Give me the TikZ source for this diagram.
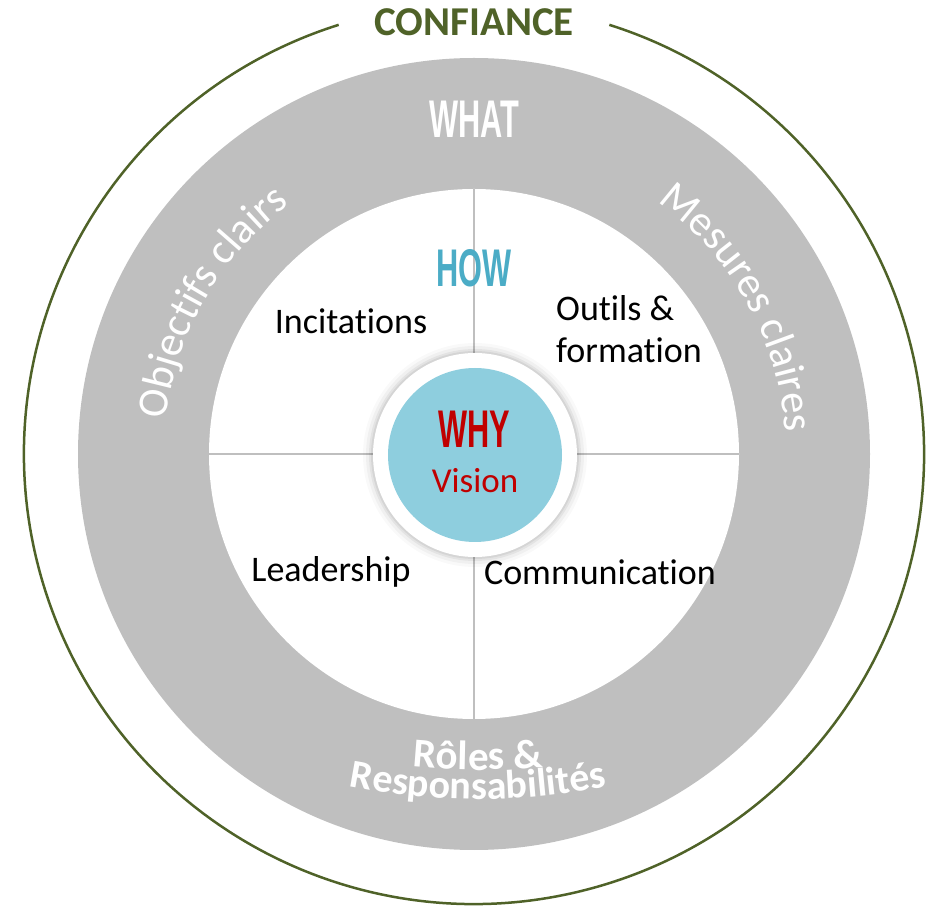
\documentclass[tikz,border=0pt]{standalone}
\usepackage{fontspec}
\setmainfont{Carlito}[Ligatures=NoCommon]
\newfontfamily\condfont[FakeStretch=0.58]{Liberation Sans}
\usetikzlibrary{decorations.text}
\definecolor{ringgray}{RGB}{191,191,191}
\definecolor{dividergray}{RGB}{191,191,191}
\definecolor{trustgreen}{RGB}{79,98,40}
\definecolor{whyblue}{RGB}{142,206,222}
\definecolor{whyred}{RGB}{192,0,0}
\definecolor{howteal}{RGB}{75,172,198}
\begin{document}
\begin{tikzpicture}[x=1pt,y=1pt,
  labeltext/.style={font=\fontsize{36}{42}\selectfont, text=black, inner sep=0},
  condtitle/.style={font=\condfont\bfseries\fontsize{53}{53}\selectfont, inner sep=0},
  divider/.style={draw=dividergray, line width=2.5pt},
  disc/.style={circle, inner sep=0, draw=none},
  ringtext/.style={decorate, decoration={text along path, text align=center, text color=white}}
]
\useasboundingbox (0,0) rectangle (930,906);
\coordinate (C) at (474,452);

% outer trust circle, open at the top for its title
\draw[trustgreen, line width=2.5pt] (C) ++(107.5:450)
  arc[start angle=107.5, end angle=432.5, radius=450];
\node[font=\bfseries\fontsize{41}{41}\selectfont, text=trustgreen, inner sep=0]
  (confiance) at (474,884) {CONFIANCE};

% WHAT ring and HOW disc
\node[disc, fill=ringgray, minimum size=792pt] (what) at (C) {};
\node[disc, fill=white, minimum size=530pt] (how) at (C) {};

% quadrant dividers
\draw[divider] (how.north) -- (how.south);
\draw[divider] (how.west) -- (how.east);

% soft shadow under the central disc
\foreach \r/\o in {112/0.025, 109/0.035, 106/0.05, 104/0.06}
  {\fill[black, opacity=\o] (475,451) circle[radius=\r];}

% WHY core
\node[disc, fill=white, minimum size=204pt] (whyring) at (475,451) {};
\node[disc, fill=whyblue, minimum size=174pt] (why) at (475,451) {};

% titles
\node[condtitle, text=white] (whatlbl) at (474,787) {WHAT};
\node[condtitle, text=howteal] (howlbl) at (474,638) {HOW};
\node[condtitle, text=whyred] (whylbl) at (474,477) {WHY};
\node[font=\fontsize{35}{40}\selectfont, text=whyred, inner sep=0] (vision) at (475,425) {Vision};

% quadrant labels
\node[labeltext] (incitations) at (351,585) {Incitations};
\node[labeltext, align=left, anchor=west] (outils) at (556,577) {Outils \&\\formation};
\node[labeltext] (leadership) at (331,334) {Leadership};
\node[labeltext] (communication) at (600,334) {Communication};

% curved labels on the WHAT ring
\path[ringtext, decoration={text={|\fontsize{43}{43}\selectfont|Objectifs clairs}}]
  (C) ++(177:310) arc[start angle=177, end angle=123, radius=310];
\path[ringtext, decoration={text={|\fontsize{43}{43}\selectfont|Mesures claires}}]
  (C) ++(56:312) arc[start angle=56, end angle=2, radius=312];
\path[ringtext, decoration={text={|\bfseries\fontsize{41}{41}\selectfont|Rôles {\&}}}]
  (478,816) ++(250:680) arc[start angle=250, end angle=290, radius=680];
\path[ringtext, decoration={text={|\bfseries\fontsize{40}{40}\selectfont|Responsabilités}}]
  (478,787) ++(250:680) arc[start angle=250, end angle=290, radius=680];
\end{tikzpicture}
\end{document}
